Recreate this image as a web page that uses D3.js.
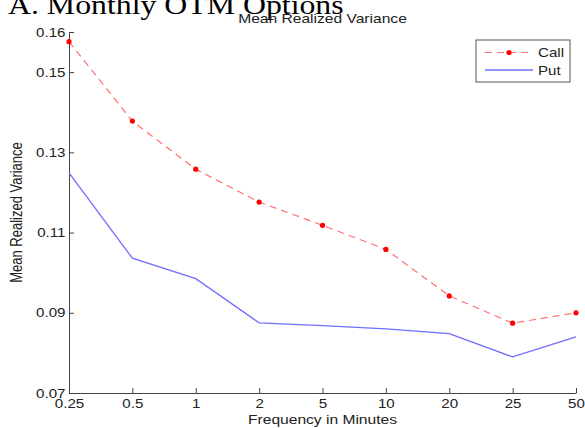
<!DOCTYPE html>
<html>
<head>
<meta charset="utf-8">
<script src="https://cdn.jsdelivr.net/npm/d3@7"></script>
<style>
  body { margin: 0; background: #fff; }
  svg { display: block; }
  text { font-family: "Liberation Sans", Arial, sans-serif; fill: #222; }
</style>
</head>
<body>
<div class="chart"></div>
<script>
// data
const freqs = ["0.25", "0.5", "1", "2", "5", "10", "20", "25", "50"];
const callVals = [0.1576, 0.1378, 0.1258, 0.1176, 0.1118, 0.1058, 0.0942, 0.0874, 0.0900];
const putVals = [0.1249, 0.1036, 0.0985, 0.0875, 0.0868, 0.0860, 0.0848, 0.0790, 0.0840];
const yTicks = [0.07, 0.09, 0.11, 0.13, 0.15, 0.16];
const seriesNames = ["Call", "Put"];

const W = 585, H = 428;
const margin = { top: 32, right: 9, bottom: 35, left: 69 };
const sx = "scale(1.2,1)"; // picture is stretched sideways

const svg = d3.select(".chart")
    .append("svg")
    .attr("width", W)
    .attr("height", H);

// Scales
const x = d3.scalePoint()
    .domain(freqs)
    .range([margin.left, W - margin.right]);
const y = d3.scaleLinear()
    .domain([0.07, 0.16])
    .range([H - margin.bottom, margin.top]);

// Big clipped title on top
svg.append("text")
    .attr("transform", `translate(8,13.5) ${sx}`)
    .style("font-family", "'Liberation Serif', 'Times New Roman', serif")
    .style("font-size", "26.5px")
    .style("fill", "#000")
    .text("A. Monthly OTM Options");

svg.append("text")
    .attr("transform", `translate(${(margin.left + W - margin.right) / 2},23) ${sx}`)
    .attr("text-anchor", "middle")
    .style("font-size", "13px")
    .text("Mean Realized Variance");

// Axes (ticks point inward like matlab)
const xAxis = svg.append("g")
    .attr("transform", `translate(0,${H - margin.bottom})`)
    .call(d3.axisBottom(x).tickSizeInner(-5).tickSizeOuter(0).tickPadding(6));
const yAxis = svg.append("g")
    .attr("transform", `translate(${margin.left},0)`)
    .call(d3.axisLeft(y).tickValues(yTicks).tickFormat(d3.format(".2f"))
        .tickSizeInner(-5).tickSizeOuter(0).tickPadding(3.5));

[xAxis, yAxis].forEach(a => {
  a.selectAll("path, line").attr("stroke", "#444");
  a.selectAll("text")
      .attr("transform", sx)
      .style("font-size", "12.6px")
      .style("fill", "#222");
});
yAxis.selectAll("text").attr("x", -3.5 / 1.2);

svg.append("text")
    .attr("transform", `translate(${(margin.left + W - margin.right) / 2},424) ${sx}`)
    .attr("text-anchor", "middle")
    .style("font-size", "13px")
    .text("Frequency in Minutes");

svg.append("text")
    .attr("transform", `translate(22,${(margin.top + H - margin.bottom) / 2}) rotate(-90) scale(1,1.2)`)
    .attr("text-anchor", "middle")
    .style("font-size", "13px")
    .text("Mean Realized Variance");

// Lines
const line = d3.line()
    .x((d, i) => x(freqs[i]))
    .y(d => y(d));

svg.append("path")
    .datum(callVals)
    .attr("fill", "none")
    .attr("stroke", "#ff7070")
    .attr("stroke-width", 1.2)
    .attr("stroke-dasharray", "7,5")
    .attr("d", line);

svg.append("path")
    .datum(putVals)
    .attr("fill", "none")
    .attr("stroke", "#6f6fff")
    .attr("stroke-width", 1.3)
    .attr("d", line);

svg.selectAll(".dot")
    .data(callVals)
    .join("circle")
    .attr("class", "dot")
    .attr("cx", (d, i) => x(freqs[i]))
    .attr("cy", d => y(d))
    .attr("r", 2.6)
    .attr("fill", "#ff0000");

// Legend
const lg = svg.append("g").attr("transform", "translate(476,40)");
lg.append("rect")
    .attr("width", 94)
    .attr("height", 42)
    .attr("fill", "#fff")
    .attr("stroke", "#555");
seriesNames.forEach((name, i) => {
  const ly = 12.5 + i * 17.5;
  lg.append("line")
      .attr("x1", 9).attr("x2", 57)
      .attr("y1", ly).attr("y2", ly)
      .attr("stroke", i === 0 ? "#ff7070" : "#6f6fff")
      .attr("stroke-width", i === 0 ? 1.2 : 1.3)
      .attr("stroke-dasharray", i === 0 ? "7,5" : null);
  if (i === 0) {
    lg.append("circle").attr("cx", 33).attr("cy", ly).attr("r", 2.6).attr("fill", "#ff0000");
  }
  lg.append("text")
      .attr("transform", `translate(62,${ly + 4.5}) ${sx}`)
      .style("font-size", "12.6px")
      .text(name);
});
</script>
</body>
</html>
